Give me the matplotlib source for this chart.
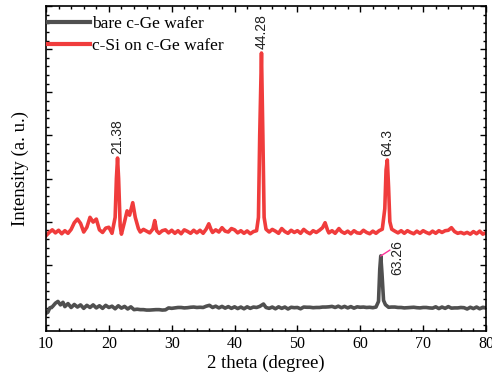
import numpy as np
import matplotlib
matplotlib.use('Agg')
import matplotlib.pyplot as plt
from matplotlib.ticker import MultipleLocator, NullFormatter

plt.rcParams['font.family'] = ['Liberation Serif', 'DejaVu Serif']

# c-Si on c-Ge wafer
red_x = [10.0, 10.5, 11.0, 11.5, 12.0, 12.5, 13.0, 13.5, 14.0, 14.5, 15.0, 15.5, 16.0, 16.5,
         17.0, 17.5, 18.0, 18.5, 19.0, 19.5, 20.0, 20.5, 21.0, 21.2, 21.38, 21.55, 21.8, 22.0,
         22.5, 22.9, 23.3, 23.8, 24.2, 24.7, 25.0, 25.5, 26.0, 26.5, 27.0, 27.3, 27.6, 28.0,
         28.5, 29.0, 29.5, 30.0, 30.5, 31.0, 31.5, 32.0, 32.5, 33.0, 33.5, 34.0, 34.5, 35.0,
         35.5, 35.9, 36.3, 36.5, 37.0, 37.5, 38.0, 38.5, 39.0, 39.5, 40.0, 40.5, 41.0, 41.5,
         42.0, 42.5, 43.0, 43.5, 43.8, 44.0, 44.28, 44.5, 44.7, 45.0, 45.5, 46.0, 46.5, 47.0,
         47.5, 48.0, 48.5, 49.0, 49.5, 50.0, 50.5, 51.0, 51.5, 52.0, 52.5, 53.0, 53.5, 54.0,
         54.4, 54.8, 55.0, 55.5, 56.0, 56.6, 57.0, 57.5, 58.0, 58.5, 59.0, 59.5, 60.0, 60.5,
         61.0, 61.5, 62.0, 62.5, 63.0, 63.5, 63.9, 64.1, 64.3, 64.5, 64.7, 65.0, 65.5, 66.0,
         66.5, 67.0, 67.5, 68.0, 68.5, 69.0, 69.5, 70.0, 70.5, 71.0, 71.5, 72.0, 72.5, 73.0,
         73.5, 74.0, 74.5, 75.0, 75.5, 76.0, 76.5, 77.0, 77.5, 78.0, 78.5, 79.0, 79.5, 80.0]
red_y = [335, 350, 362, 348, 360, 344, 358, 346, 364, 395, 412, 392, 352, 374,
         420, 398, 412, 362, 350, 370, 374, 346, 420, 600, 695, 600, 380, 342,
         400, 450, 430, 488, 420, 368, 352, 364, 356, 348, 366, 405, 358, 346,
         358, 362, 348, 360, 346, 358, 344, 362, 355, 346, 360, 348, 360, 346,
         366, 390, 360, 350, 362, 352, 372, 356, 352, 368, 362, 348, 358, 346,
         357, 344, 354, 358, 420, 800, 1182, 800, 420, 365, 352, 364, 356, 346,
         368, 354, 346, 360, 350, 358, 346, 364, 352, 344, 358, 350, 360, 372,
         395, 360, 348, 358, 346, 368, 354, 346, 356, 344, 358, 348, 346, 360,
         350, 344, 356, 346, 358, 365, 460, 640, 686, 560, 400, 365, 356, 348,
         358, 346, 358, 350, 344, 356, 346, 358, 350, 344, 356, 346, 358, 350,
         358, 360, 372, 354, 346, 350, 344, 350, 342, 354, 344, 356, 342, 349]

# bare c-Ge wafer
gray_x = [10.0, 10.3, 10.6, 11.0, 11.5, 11.9, 12.3, 12.7, 13.0, 13.5, 14.0, 14.5, 15.0, 15.5,
          16.0, 16.5, 17.0, 17.5, 18.0, 18.5, 19.0, 19.5, 20.0, 20.5, 21.0, 21.5, 22.0, 22.5,
          23.0, 23.5, 24.0, 24.5, 25.0, 25.5, 26.0, 26.5, 27.0, 27.5, 28.0, 28.5, 29.0, 29.5,
          30.0, 30.5, 31.0, 31.5, 32.0, 32.5, 33.0, 33.5, 34.0, 34.5, 35.0, 35.5, 36.0, 36.5,
          37.0, 37.5, 38.0, 38.5, 39.0, 39.5, 40.0, 40.5, 41.0, 41.5, 42.0, 42.5, 43.0, 43.5,
          44.0, 44.6, 45.0, 45.5, 46.0, 46.5, 47.0, 47.5, 48.0, 48.5, 49.0, 49.5, 50.0, 50.5,
          51.0, 51.5, 52.0, 52.5, 53.0, 53.5, 54.0, 54.5, 55.0, 55.5, 56.0, 56.5, 57.0, 57.5,
          58.0, 58.5, 59.0, 59.5, 60.0, 60.5, 61.0, 61.5, 62.0, 62.5, 62.9, 63.1, 63.26, 63.45,
          63.7, 64.0, 64.5, 65.0, 65.5, 66.0, 66.5, 67.0, 67.5, 68.0, 68.5, 69.0, 69.5, 70.0,
          70.5, 71.0, 71.5, 72.0, 72.5, 73.0, 73.5, 74.0, 74.5, 75.0, 75.5, 76.0, 76.5, 77.0,
          77.5, 78.0, 78.5, 79.0, 79.5, 80.0]
gray_y = [-25, -20, 0, 5, 22, 30, 14, 26, 6, 20, 2, 16, 4, 14,
          -2, 12, 2, 14, 0, 10, -2, 12, 2, 8, -4, 10, -1, 7,
          -5, 5, -8, -6, -8, -8, -10, -10, -9, -8, -8, -10, -9, 0,
          -2, 0, 2, 2, 0, 1, 3, 4, 2, 3, 2, 8, 12, 2,
          8, 0, 7, -1, 6, -2, 5, -3, 4, -4, 5, -2, 4, 2,
          7, 18, 2, -2, 4, -4, 5, -2, 4, -5, 3, 1, 2, -4,
          4, 3, 3, 1, 2, 2, 4, 4, 5, 7, 2, 8, 1, 7,
          0, 6, -1, 5, 3, 4, 2, 3, 1, 4, 30, 180, 241, 160,
          35, 15, 3, 4, 4, 2, 2, 0, 1, 2, 3, 1, 0, 2,
          2, 0, -1, 5, -3, 4, -2, 6, -1, 0, 0, 2, 1, -5,
          3, -3, 4, -4, 3, 0]

peak_labels = ['21.38', '44.28', '64.3']
peak_pos = [21.38, 44.28, 64.3]
peak_top = [695, 1182, 686]

fig = plt.figure(figsize=(4.92, 3.83), dpi=100)
ax = fig.add_axes([0.0935, 0.1358, 0.8943, 0.8485])

ax.plot(gray_x, gray_y, color='#505050', lw=2.6, label='bare c-Ge wafer')
ax.plot(red_x, red_y, color='#f03c3c', lw=2.6, label='c-Si on c-Ge wafer')

for lab, px, py in zip(peak_labels, peak_pos, peak_top):
    ax.text(px, py + 20, lab, rotation=90, ha='center', va='bottom',
            fontsize=10, color='#222222', family=['Liberation Sans', 'DejaVu Sans'])

# 63.26 label with leader line
ax.plot([63.26, 64.7], [241, 268], color='#ff3399', lw=1)
ax.text(65.9, 235, '63.26', rotation=90, ha='center', va='center',
        fontsize=10, color='#222222', family=['Liberation Sans', 'DejaVu Sans'])

ax.set_xlim(10, 80)
ax.set_ylim(-107, 1400)
ax.xaxis.set_major_locator(MultipleLocator(10))
ax.xaxis.set_minor_locator(MultipleLocator(2))
ax.yaxis.set_major_locator(MultipleLocator(200))
ax.yaxis.set_minor_locator(MultipleLocator(40))
ax.yaxis.set_major_formatter(NullFormatter())
ax.tick_params(which='both', direction='in', top=True, right=True, labelsize=11.5)
ax.tick_params(which='major', length=4.5, width=1)
ax.tick_params(which='minor', length=2.3, width=1)
for s in ax.spines.values():
    s.set_linewidth(1.2)

ax.set_xlabel('2 theta (degree)', fontsize=13.5, labelpad=2)
ax.set_ylabel('Intensity (a. u.)', fontsize=13.5, labelpad=9)

leg = ax.legend(loc='upper left', bbox_to_anchor=(0.005, 0.969), frameon=False,
                fontsize=12.5, handlelength=2.4, handletextpad=0.1, borderaxespad=0,
                borderpad=0, labelspacing=0.3)
for l in leg.get_lines():
    l.set_linewidth(3)

fig.savefig('out.png', dpi=100)
